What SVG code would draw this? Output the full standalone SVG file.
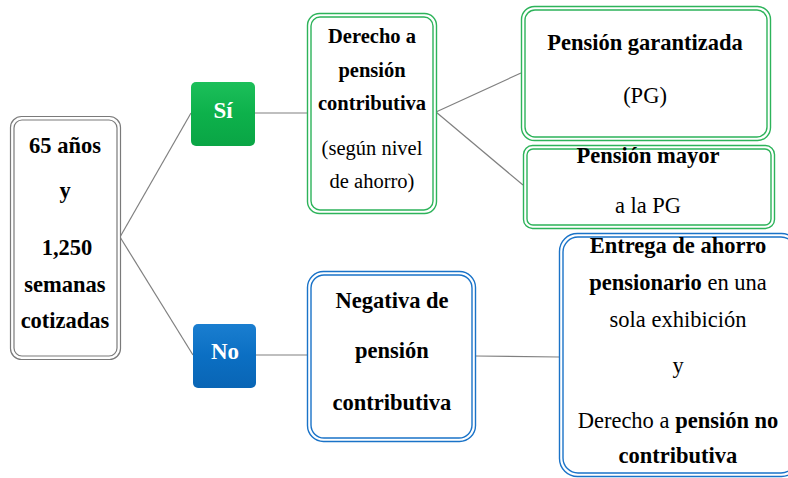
<svg xmlns="http://www.w3.org/2000/svg" width="788" height="478" viewBox="0 0 788 478">
<defs>
<style>
.t{font-family:"Liberation Serif","Times New Roman",serif;fill:#000;text-anchor:middle;font-size:22.5px}
.s{font-size:20.5px}
.b{font-weight:bold}
.w{fill:#fff;font-weight:bold;font-size:23px}
.gray{fill:#fff;stroke:#7a7a7a;stroke-width:1.2}
.grn{fill:#fff;stroke:#2db35a;stroke-width:1.4}
.blu{fill:#fff;stroke:#1a73c8;stroke-width:1.4}
.inner{fill:none}
.con{stroke:#808080;stroke-width:1.2;fill:none}
</style>
<linearGradient id="gg" x1="0" y1="0" x2="0" y2="1">
<stop offset="0" stop-color="#1cbf5a"/><stop offset="0.5" stop-color="#0db14b"/><stop offset="1" stop-color="#0aa545"/>
</linearGradient>
<linearGradient id="bg" x1="0" y1="0" x2="0" y2="1">
<stop offset="0" stop-color="#1a7ed0"/><stop offset="0.5" stop-color="#0b6fc3"/><stop offset="1" stop-color="#0965b5"/>
</linearGradient>
</defs>
<g id="connectors">
<line class="con" x1="120" y1="237" x2="191" y2="113"/>
<line class="con" x1="120" y1="237" x2="193" y2="355"/>
<line class="con" x1="255" y1="113" x2="308" y2="113"/>
<line class="con" x1="256" y1="355" x2="308" y2="355"/>
<line class="con" x1="436" y1="112" x2="521" y2="73"/>
<line class="con" x1="436" y1="112" x2="523" y2="185"/>
<line class="con" x1="475" y1="356" x2="559" y2="357"/>
</g>
<g id="n-cond">
<rect class="gray" x="10.5" y="116.5" width="110" height="243" rx="11"/>
<rect class="gray inner" x="14" y="120" width="103" height="236" rx="8"/>
<text class="t b" x="65" y="153">65 años</text>
<text class="t b" x="65" y="198">y</text>
<text class="t b" x="67" y="255">1,250</text>
<text class="t b" x="65" y="292">semanas</text>
<text class="t b" x="65" y="328">cotizadas</text>
</g>
<g id="n-si">
<rect x="191" y="82" width="64" height="64" rx="5" fill="url(#gg)"/>
<text class="t w" x="223" y="118">Sí</text>
</g>
<g id="n-no">
<rect x="193" y="324" width="63" height="64" rx="5" fill="url(#bg)"/>
<text class="t w" x="225" y="359">No</text>
</g>
<g id="n-derecho">
<rect class="grn" x="307.5" y="13.5" width="129" height="200" rx="12"/>
<rect class="grn inner" x="311" y="17" width="122" height="193" rx="9"/>
<text class="t s b" x="372" y="43">Derecho a</text>
<text class="t s b" x="372" y="77">pensión</text>
<text class="t s b" x="372" y="110">contributiva</text>
<text class="t s" x="372" y="155">(según nivel</text>
<text class="t s" x="372" y="188">de ahorro)</text>
</g>
<g id="n-pg">
<rect class="grn" x="521.5" y="6.5" width="249" height="134" rx="13"/>
<rect class="grn inner" x="525" y="10" width="242" height="127" rx="10"/>
<text class="t b" x="645" y="50">Pensión garantizada</text>
<text class="t" x="645" y="103">(PG)</text>
</g>
<g id="n-mayor">
<rect class="grn" x="523.5" y="145.5" width="251" height="83" rx="9"/>
<rect class="grn inner" x="527" y="149" width="244" height="76" rx="6"/>
<text class="t b" x="648" y="163">Pensión mayor</text>
<text class="t" x="648" y="213">a la PG</text>
</g>
<g id="n-negativa">
<rect class="blu" x="307.5" y="271.5" width="168" height="170" rx="16"/>
<rect class="blu inner" x="311" y="275" width="161" height="163" rx="13"/>
<text class="t b" x="392" y="308">Negativa de</text>
<text class="t b" x="392" y="358">pensión</text>
<text class="t b" x="392" y="410">contributiva</text>
</g>
<g id="n-entrega">
<rect class="blu" x="559.5" y="233.5" width="240" height="243" rx="18"/>
<rect class="blu inner" x="563" y="237" width="233" height="236" rx="15"/>
<text class="t b" x="678" y="253">Entrega de ahorro</text>
<text class="t" x="678" y="290"><tspan class="b">pensionario</tspan> en una</text>
<text class="t" x="678" y="327">sola exhibición</text>
<text class="t" x="678" y="373">y</text>
<text class="t" x="678" y="428">Derecho a <tspan class="b">pensión no</tspan></text>
<text class="t b" x="678" y="463">contributiva</text>
</g>
</svg>
